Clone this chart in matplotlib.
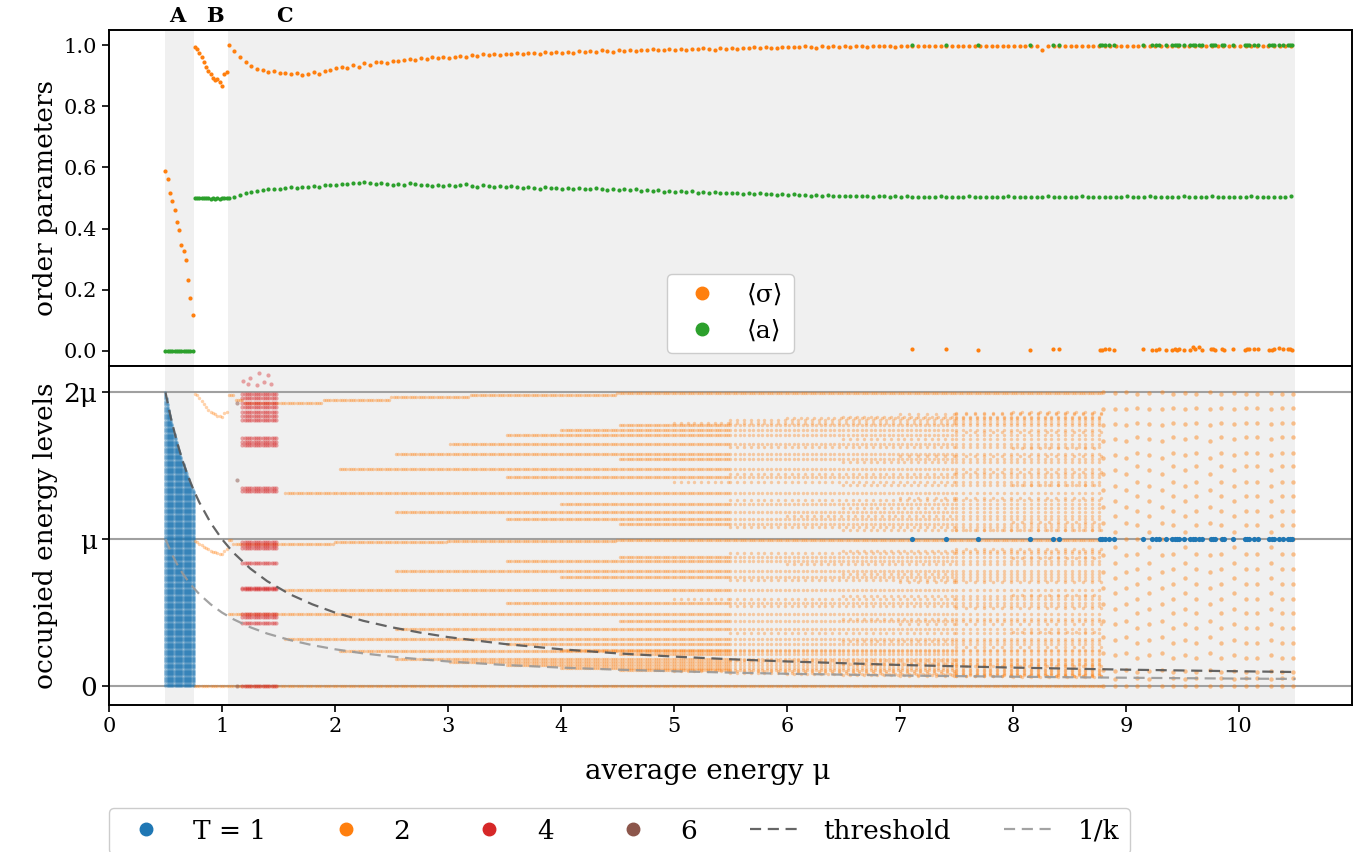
import numpy as np
import matplotlib.pyplot as plt
from matplotlib.lines import Line2D

plt.rcParams['font.family'] = ['DejaVu Serif', 'DejaVu Sans']

C_BLUE, C_ORANGE, C_GREEN = 'tab:blue', 'tab:orange', 'tab:green'
C_RED, C_BROWN = 'tab:red', 'tab:brown'

# ---------------- upper panel: order parameters ----------------
mu_a = [0.50, 0.52, 0.54, 0.56, 0.58, 0.60, 0.62, 0.64, 0.66, 0.68, 0.70, 0.72, 0.74]
sigma_a = [0.588, 0.561, 0.515, 0.490, 0.461, 0.421, 0.394, 0.346, 0.325, 0.298, 0.233, 0.173, 0.118]
a_a = [0.0, 0.0, 0.0, 0.0, 0.0, 0.0, 0.0, 0.0, 0.0, 0.0, 0.0, 0.0, 0.0]

mu_b = [0.76, 0.78, 0.80, 0.82, 0.84, 0.86, 0.88, 0.90, 0.92, 0.94, 0.96, 0.98, 1.00, 1.02, 1.04]
sigma_b = [0.995, 0.988, 0.975, 0.962, 0.945, 0.930, 0.915, 0.905, 0.892, 0.886, 0.890, 0.879, 0.868, 0.906, 0.913]
a_b = [0.500, 0.500, 0.499, 0.500, 0.499, 0.499, 0.500, 0.498, 0.499, 0.498, 0.499, 0.498, 0.499, 0.500, 0.500]

# region C, sampled every 0.05 from 1.06 to 10.46
mu_c = np.round(np.arange(1.06, 10.47, 0.05), 2)
sigma_c = [
    1.000, 0.980, 0.962, 0.945, 0.932, 0.922, 0.918, 0.912, 0.915, 0.908,
    0.910, 0.905, 0.909, 0.902, 0.907, 0.911, 0.905, 0.916, 0.920, 0.924,
    0.929, 0.927, 0.934, 0.930, 0.941, 0.937, 0.944, 0.946, 0.942, 0.950,
    0.947, 0.951, 0.955, 0.952, 0.958, 0.954, 0.960, 0.957, 0.963, 0.959,
    0.962, 0.966, 0.963, 0.968, 0.965, 0.970, 0.967, 0.972, 0.969, 0.973,
    0.970, 0.975, 0.972, 0.976, 0.974, 0.971, 0.977, 0.975, 0.979, 0.976,
    0.978, 0.975, 0.980, 0.977, 0.981, 0.979, 0.983, 0.980, 0.978, 0.983,
    0.981, 0.985, 0.982, 0.986, 0.984, 0.988, 0.985, 0.983, 0.987, 0.986,
    0.988, 0.985, 0.989, 0.987, 0.990, 0.988, 0.986, 0.990, 0.989, 0.991,
    0.989, 0.992, 0.990, 0.993, 0.991, 0.994, 0.992, 0.990, 0.994, 0.993,
    0.995, 0.993, 0.996, 0.994, 0.992, 0.996, 0.995, 0.997, 0.994, 0.996,
    0.995, 0.997, 0.996, 0.994, 0.997, 0.998, 0.996, 0.997, 0.995, 0.998,
    0.997, 0.999, 0.996, 0.998, 0.997, 0.999, 0.998, 0.996, 0.999, 0.998,
    0.997, 0.999, 0.998, 0.996, 0.999, 0.998, 0.997, 0.999, 0.998, 0.999,
    0.998, 0.996, 0.999, 0.997, 0.985, 0.998, 0.999, 0.997, 0.998, 0.999,
    0.998, 0.999, 0.997, 0.998, 0.999, 0.998, 0.999, 0.997, 0.998, 0.999,
    0.998, 0.999, 0.998, 0.997, 0.999, 0.998, 0.999, 0.998, 0.999, 0.998,
    0.999, 0.998, 0.999, 0.998, 0.999, 0.999, 0.998, 0.999, 0.998, 0.999,
    0.998, 0.999, 0.999, 0.998, 0.999, 0.998, 0.999, 0.999, 0.998]
a_c = [
    0.500, 0.503, 0.509, 0.515, 0.520, 0.524, 0.527, 0.529, 0.531, 0.530,
    0.533, 0.535, 0.533, 0.537, 0.536, 0.539, 0.537, 0.541, 0.543, 0.541,
    0.545, 0.547, 0.550, 0.548, 0.552, 0.549, 0.546, 0.550, 0.547, 0.544,
    0.546, 0.543, 0.548, 0.545, 0.541, 0.544, 0.540, 0.543, 0.539, 0.542,
    0.538, 0.541, 0.546, 0.540, 0.537, 0.541, 0.538, 0.535, 0.539, 0.536,
    0.538, 0.535, 0.533, 0.537, 0.534, 0.531, 0.535, 0.532, 0.534, 0.530,
    0.533, 0.529, 0.532, 0.528, 0.531, 0.534, 0.529, 0.527, 0.530, 0.526,
    0.529, 0.525, 0.528, 0.524, 0.527, 0.522, 0.525, 0.521, 0.524, 0.520,
    0.523, 0.519, 0.522, 0.518, 0.521, 0.517, 0.519, 0.516, 0.518, 0.515,
    0.517, 0.514, 0.516, 0.513, 0.515, 0.512, 0.514, 0.511, 0.513, 0.510,
    0.512, 0.509, 0.511, 0.508, 0.510, 0.507, 0.509, 0.508, 0.506, 0.508,
    0.506, 0.507, 0.505, 0.507, 0.504, 0.506, 0.505, 0.503, 0.505, 0.504,
    0.505, 0.503, 0.504, 0.502, 0.504, 0.503, 0.505, 0.503, 0.502, 0.504,
    0.503, 0.505, 0.502, 0.504, 0.503, 0.502, 0.504, 0.503, 0.505, 0.502,
    0.504, 0.503, 0.502, 0.504, 0.503, 0.505, 0.502, 0.504, 0.503, 0.502,
    0.503, 0.505, 0.503, 0.502, 0.504, 0.503, 0.502, 0.504, 0.503, 0.505,
    0.502, 0.504, 0.503, 0.505, 0.502, 0.503, 0.504, 0.502, 0.503, 0.505,
    0.503, 0.502, 0.504, 0.503, 0.505, 0.502, 0.504, 0.503, 0.502, 0.504,
    0.503, 0.505, 0.502, 0.504, 0.503, 0.502, 0.504, 0.503, 0.505]

# runs that ended in the T=1 state at high mu (sigma ~ 0, a = 1)
mu_flip = [7.11, 7.41, 7.69, 8.15, 8.35, 8.41, 8.77, 8.79, 8.81, 8.85, 8.89,
           9.15, 9.23, 9.27, 9.29, 9.35, 9.41, 9.43, 9.45, 9.47, 9.51, 9.57,
           9.59, 9.61, 9.65, 9.67, 9.75, 9.77, 9.79, 9.85, 9.87, 9.95, 10.05,
           10.07, 10.09, 10.13, 10.17, 10.27, 10.29, 10.31, 10.35, 10.39,
           10.43, 10.45, 10.47]
sigma_flip = [0.005, 0.006, 0.004, 0.003, 0.005, 0.006, 0.002, 0.004, 0.006,
              0.005, 0.003, 0.006, 0.003, 0.004, 0.005, 0.004, 0.004, 0.006,
              0.003, 0.005, 0.004, 0.003, 0.011, 0.006, 0.013, 0.004, 0.007,
              0.005, 0.004, 0.005, 0.004, 0.005, 0.004, 0.006, 0.007, 0.005,
              0.006, 0.004, 0.002, 0.005, 0.008, 0.007, 0.006, 0.005, 0.004]

# ---------------- lower panel: occupied levels (units of mu) ----------------
mu_grid = np.round(np.arange(0.50, 10.50, 0.02), 2)

# T = 1 columns in region A and their top level
blue_mu = [0.50, 0.51, 0.52, 0.53, 0.54, 0.55, 0.56, 0.57, 0.58, 0.59, 0.60, 0.61, 0.62,
           0.63, 0.64, 0.65, 0.66, 0.67, 0.68, 0.69, 0.70, 0.71, 0.72, 0.73, 0.74, 0.75]
blue_top = [2.000, 1.961, 1.923, 1.887, 1.852, 1.818, 1.786, 1.754, 1.724, 1.695, 1.667,
            1.639, 1.613, 1.587, 1.563, 1.538, 1.515, 1.493, 1.471, 1.449, 1.429, 1.408,
            1.389, 1.370, 1.351, 1.333]

# T = 2 in region B (two descending branches)
b_upper = [1.99, 1.98, 1.96, 1.94, 1.92, 1.90, 1.88, 1.87, 1.86, 1.85, 1.84, 1.84, 1.83, 1.86, 1.87]
b_lower = [0.99, 0.98, 0.97, 0.96, 0.95, 0.94, 0.93, 0.92, 0.915, 0.91, 0.905, 0.90, 0.90, 0.92, 0.93]

# 2mu and mu lines in region C (piecewise levels)
top_start = [1.05, 1.12, 1.20, 1.90, 2.50, 3.20, 4.50]
top_level = [1.98, 1.95, 1.925, 1.95, 1.97, 1.985, 1.995]
mid_start = [1.05, 1.10, 2.00, 3.00, 4.50]
mid_level = [0.995, 0.967, 0.978, 0.988, 0.995]

# T = 2 level families: onset in mu and the levels that appear there
family_onset = [1.05, 1.56, 2.04, 2.53, 3.01, 3.51, 4.00, 4.51, 5.00, 5.50, 6.00, 6.50, 7.00, 7.50, 8.00]
family_levels = [
    [0.49],
    [1.315, 0.652, 0.32],
    [1.48, 0.235],
    [1.58, 1.185, 0.785, 0.39, 0.185],
    [1.65, 0.16],
    [1.71, 1.424, 1.136, 0.852, 0.565, 0.283, 0.14],
    [1.746, 1.243, 0.744, 0.247, 0.122],
    [1.776, 1.547, 1.105, 0.882, 0.442, 0.22, 0.11],
    [1.79, 1.39, 0.595, 0.099],
    [1.81, 1.63, 1.445, 1.265, 1.085, 0.905, 0.725, 0.545, 0.36, 0.18, 0.09],
    [1.825, 1.16, 0.83, 0.083],
    [1.835, 1.68, 1.525, 1.37, 1.215, 1.06, 0.92, 0.765, 0.61, 0.455, 0.305, 0.152, 0.077],
    [1.85, 1.565, 1.28, 0.71, 0.425, 0.071],
    [1.86, 1.73, 1.46, 1.06, 0.93, 0.53, 0.265, 0.133, 0.067],
    [1.87, 1.62, 1.37, 1.12, 0.87, 0.62, 0.37, 0.062]]
family_step = [1, 1, 1, 1, 1, 1, 1, 1, 3, 3, 3, 3, 4, 4, 4]

# how sparsely the older lines are filled further right (mu from, sampling step)
thin_from = [5.5, 7.5]
thin_step = [2, 3]

# sparse columns beyond mu = 8.8
rows_18 = [0.0, 0.111, 0.222, 0.333, 0.444, 0.556, 0.667, 0.778, 0.889, 1.0,
           1.111, 1.222, 1.333, 1.444, 1.556, 1.667, 1.778, 1.889, 2.0]
rows_19 = [0.0, 0.05, 0.105, 0.21, 0.315, 0.42, 0.525, 0.63, 0.735, 0.84, 0.945,
           1.05, 1.155, 1.26, 1.365, 1.47, 1.575, 1.68, 1.785, 1.89, 1.995]
rows_20 = [0.0, 0.052, 0.097, 0.192, 0.295, 0.392, 0.495, 0.59, 0.698, 0.80, 0.898,
           1.0, 1.095, 1.193, 1.293, 1.39, 1.497, 1.587, 1.696, 1.791, 1.896, 1.991]
far_mu = [8.80, 8.90, 9.00, 9.10, 9.20, 9.32, 9.42, 9.52, 9.62, 9.74, 9.84, 9.96,
          10.06, 10.16, 10.28, 10.38, 10.48]
far_rows = [18, 19, 18, 20, 19, 18, 20, 19, 20, 18, 20, 19, 20, 20, 19, 20, 20]

# T = 4 and T = 6 points
red_mu = [1.18, 1.20, 1.22, 1.24, 1.26, 1.28, 1.30, 1.32, 1.34, 1.36, 1.38, 1.40, 1.42, 1.44, 1.46, 1.48]
red_levels = [1.99, 1.96, 1.93, 1.90, 1.87, 1.84, 1.81, 1.69, 1.66, 1.64, 1.35, 1.33,
              0.98, 0.96, 0.94, 0.84, 0.67, 0.66, 0.49, 0.47, 0.43, 0.0]
red_top_mu = [1.19, 1.23, 1.25, 1.31, 1.33, 1.37, 1.41, 1.43]
red_top_level = [2.08, 2.06, 2.10, 2.05, 2.13, 2.07, 2.12, 2.06]
brown_mu = [1.13, 1.13, 1.13]
brown_level = [1.93, 1.40, 0.0]

# reference curves
curve_mu = [0.50, 0.55, 0.60, 0.65, 0.70, 0.75, 0.80, 0.90, 1.00, 1.10, 1.25, 1.40, 1.60,
            1.80, 2.00, 2.25, 2.50, 2.75, 3.00, 3.50, 4.00, 4.50, 5.00, 5.50, 6.00, 7.00,
            8.00, 9.00, 10.00, 10.50]
threshold = [2.000, 1.818, 1.667, 1.538, 1.429, 1.333, 1.250, 1.111, 1.000, 0.909, 0.800,
             0.714, 0.625, 0.556, 0.500, 0.444, 0.400, 0.364, 0.333, 0.286, 0.250, 0.222,
             0.200, 0.182, 0.167, 0.143, 0.125, 0.111, 0.100, 0.095]
one_over_k = [1.000, 0.909, 0.833, 0.769, 0.714, 0.667, 0.625, 0.556, 0.500, 0.455, 0.400,
              0.357, 0.313, 0.278, 0.250, 0.222, 0.200, 0.182, 0.167, 0.143, 0.125, 0.111,
              0.100, 0.091, 0.083, 0.071, 0.063, 0.056, 0.050, 0.048]


def grid_points(start, end, every=1):
    if end <= start:
        return []
    pts = mu_grid[(mu_grid >= start - 1e-9) & (mu_grid < end - 1e-9)]
    return list(pts[::every])


def line_points(onset, every):
    pts = grid_points(onset, thin_from[0], every)
    pts += grid_points(max(onset, thin_from[0]), thin_from[1], max(every, thin_step[0]))
    pts += grid_points(max(onset, thin_from[1]), 8.8, max(every, thin_step[1]))
    return pts


fig = plt.figure(figsize=(13.54, 8.52), dpi=100)
ax1 = fig.add_axes([0.0805, 0.5704, 0.918, 0.3944])
ax2 = fig.add_axes([0.0805, 0.1725, 0.918, 0.3979], sharex=ax1)

for ax in (ax1, ax2):
    ax.axvspan(0.5, 0.75, color='#f0f0f0', lw=0, zorder=0)
    ax.axvspan(1.05, 10.5, color='#f0f0f0', lw=0, zorder=0)
    for s in ax.spines.values():
        s.set_linewidth(1.4)
    ax.tick_params(labelsize=15, width=1.2, length=5)

# upper panel
dot = dict(s=9, lw=0, zorder=3)
ax1.scatter(mu_a + mu_b, sigma_a + sigma_b, color=C_ORANGE, **dot)
ax1.scatter(mu_c, sigma_c, color=C_ORANGE, **dot)
ax1.scatter(mu_flip, sigma_flip, color=C_ORANGE, **dot)
ax1.scatter(mu_a + mu_b, a_a + a_b, color=C_GREEN, **dot)
ax1.scatter(mu_c, a_c, color=C_GREEN, **dot)
ax1.scatter(mu_flip, [1.0] * len(mu_flip), color=C_GREEN, **dot)

ax1.set_ylim(-0.05, 1.05)
ax1.set_yticks([0, 0.2, 0.4, 0.6, 0.8, 1.0])
ax1.set_yticklabels(['0.0', '0.2', '0.4', '0.6', '0.8', '1.0'])
ax1.set_ylabel('order parameters', fontsize=19)
ax1.tick_params(axis='x', bottom=False, labelbottom=False)

for lab, xpos in [('A', 0.60), ('B', 0.94), ('C', 1.55)]:
    ax1.text(xpos, 1.042, lab, transform=ax1.get_xaxis_transform(), ha='center',
             va='center', fontsize=15, fontweight='bold', family='DejaVu Serif')

h_top = [Line2D([], [], ls='', marker='o', ms=9, color=C_ORANGE, label='⟨σ⟩'),
         Line2D([], [], ls='', marker='o', ms=9, color=C_GREEN, label='⟨a⟩')]
ax1.legend(handles=h_top, loc='lower center', bbox_to_anchor=(0.5, 0.04),
           borderaxespad=0, fontsize=18, framealpha=1, edgecolor='#cccccc')

# lower panel
for lev in (0, 1, 2):
    ax2.axhline(lev, color='#a0a0a0', lw=1.5, zorder=1)

bx, by = [], []
for m, top in zip(blue_mu, blue_top):
    levs = np.arange(0.0, top + 1e-9, 0.008)
    bx.extend([m] * len(levs))
    by.extend(levs)
ax2.scatter(bx, by, s=4, color=C_BLUE, alpha=0.3, lw=0, zorder=2)

ox, oy = [], []
ox.extend(mu_b + mu_b)
oy.extend(b_upper + b_lower)
for i, st in enumerate(top_start):
    end = top_start[i + 1] if i + 1 < len(top_start) else 8.8
    pts = grid_points(st, end)
    ox.extend(pts)
    oy.extend([top_level[i]] * len(pts))
for i, st in enumerate(mid_start):
    end = mid_start[i + 1] if i + 1 < len(mid_start) else 8.8
    pts = grid_points(st, end)
    ox.extend(pts)
    oy.extend([mid_level[i]] * len(pts))
pts = grid_points(0.76, 8.8)
ox.extend(pts)
oy.extend([0.0] * len(pts))
for onset, levels, every in zip(family_onset, family_levels, family_step):
    for lev in levels:
        pts = line_points(onset, every)
        ox.extend(pts)
        oy.extend([lev] * len(pts))
ax2.scatter(ox, oy, s=6, color=C_ORANGE, alpha=0.35, lw=0, zorder=2)

fx, fy = [], []
rows = {18: rows_18, 19: rows_19, 20: rows_20}
for m, r in zip(far_mu, far_rows):
    fx.extend([m] * len(rows[r]))
    fy.extend(rows[r])
ax2.scatter(fx, fy, s=10, color=C_ORANGE, alpha=0.45, lw=0, zorder=2)

rx, ry = [], []
for m in red_mu:
    rx.extend([m] * len(red_levels))
    ry.extend(red_levels)
rx.extend(red_top_mu)
ry.extend(red_top_level)
ax2.scatter(rx, ry, s=9, color=C_RED, alpha=0.4, lw=0, zorder=3)
ax2.scatter(brown_mu, brown_level, s=9, color=C_BROWN, alpha=0.5, lw=0, zorder=3)
ax2.scatter(mu_flip, [1.0] * len(mu_flip), s=14, color=C_BLUE, lw=0, zorder=4)

ax2.plot(curve_mu, threshold, color='#555555', ls='--', dashes=(5, 3), lw=1.6,
         alpha=0.9, zorder=5)
ax2.plot(curve_mu, one_over_k, color='#999999', ls='--', dashes=(5, 3), lw=1.6,
         alpha=0.9, zorder=5)

ax2.set_xlim(0, 11)
ax2.set_ylim(-0.13, 2.18)
ax2.set_yticks([0, 1, 2])
ax2.set_yticklabels(['0', 'μ', '2μ'])
ax2.tick_params(axis='y', labelsize=19)
ax2.set_xticks(range(0, 11))
ax2.set_ylabel('occupied energy levels', fontsize=19)
ax2.set_xlabel('average energy μ', fontsize=20)
ax2.xaxis.set_label_coords(0.482, -0.155)
fig.align_ylabels([ax1, ax2])

h_bot = [Line2D([], [], ls='', marker='o', ms=9, color=C_BLUE, label='T = 1'),
         Line2D([], [], ls='', marker='o', ms=9, color=C_ORANGE, label='2'),
         Line2D([], [], ls='', marker='o', ms=9, color=C_RED, label='4'),
         Line2D([], [], ls='', marker='o', ms=9, color=C_BROWN, label='6'),
         Line2D([], [], ls='--', lw=1.6, dashes=(5, 3), color='#555555', alpha=0.9, label='threshold'),
         Line2D([], [], ls='--', lw=1.6, dashes=(5, 3), color='#999999', alpha=0.9, label='1/k')]
ax2.legend(handles=h_bot, loc='upper left', bbox_to_anchor=(0, -0.304), borderaxespad=0,
           ncol=6, fontsize=19, columnspacing=2.0, framealpha=1, edgecolor='#cccccc')

fig.savefig('out.png', dpi=100)
